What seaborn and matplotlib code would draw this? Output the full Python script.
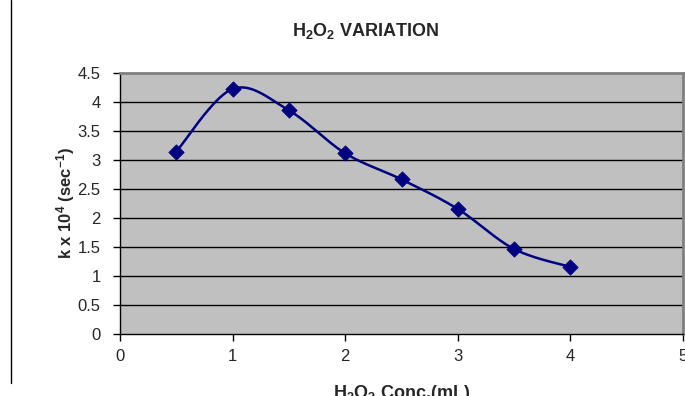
import numpy as np
import pandas as pd
import matplotlib
matplotlib.use("Agg")
import matplotlib.pyplot as plt
from matplotlib.lines import Line2D
import seaborn as sns

# data
conc_ml = [0.5, 1.0, 1.5, 2.0, 2.5, 3.0, 3.5, 4.0]
k_values = [3.14, 4.22, 3.85, 3.11, 2.66, 2.15, 1.46, 1.15]
x_ticks = [0, 1, 2, 3, 4, 5]
y_ticks = [0, 0.5, 1, 1.5, 2, 2.5, 3, 3.5, 4, 4.5]
title = "H$_2$O$_2$ VARIATION"
x_label = "H$_2$O$_2$ Conc.(mL)"
y_label = "k x 10$^4$ (sec$^{-1}$)"

sns.set_style("white")
plt.rcParams['font.family'] = ['Liberation Sans', 'DejaVu Sans']
plt.rcParams['mathtext.fontset'] = 'custom'
plt.rcParams['mathtext.rm'] = 'Liberation Sans'
plt.rcParams['mathtext.bf'] = 'Liberation Sans:bold'
plt.rcParams['mathtext.default'] = 'regular'

df = pd.DataFrame({"conc": conc_ml, "k": k_values})


def excel_smooth(x, y, n=40):
    x = np.asarray(x, float)
    y = np.asarray(y, float)
    px = np.concatenate([[x[0]], x, [x[-1]]])
    py = np.concatenate([[y[0]], y, [y[-1]]])
    xs, ys = [], []
    t = np.linspace(0, 1, n)
    for i in range(1, len(px) - 2):
        p0 = np.array([px[i], py[i]])
        p3 = np.array([px[i + 1], py[i + 1]])
        c1 = p0 + (np.array([px[i + 1], py[i + 1]]) - np.array([px[i - 1], py[i - 1]])) / 6
        c2 = p3 - (np.array([px[i + 2], py[i + 2]]) - np.array([px[i], py[i]])) / 6
        b = ((1 - t) ** 3)[:, None] * p0 + (3 * (1 - t) ** 2 * t)[:, None] * c1 \
            + (3 * (1 - t) * t ** 2)[:, None] * c2 + (t ** 3)[:, None] * p3
        xs.extend(b[:, 0])
        ys.extend(b[:, 1])
    return np.array(xs), np.array(ys)


sx, sy = excel_smooth(conc_ml, k_values)
curve = pd.DataFrame({"conc": sx, "k": sy})

fig = plt.figure(figsize=(6.85, 3.96), dpi=100)
ax = fig.add_axes([120 / 685, 1 - 333.7 / 396, 563 / 685, 261 / 396])
ax.set_facecolor("#C0C0C0")

navy = "#000080"
ax.plot(curve["conc"], curve["k"], color=navy, lw=1.8, zorder=3)
sns.scatterplot(data=df, x="conc", y="k", marker="D", s=60, color=navy,
                edgecolor=navy, ax=ax, zorder=4)

ax.set_xlim(0, 5)
ax.set_ylim(0, 4.5)
ax.set_xticks(x_ticks)
ax.set_yticks(y_ticks)
ax.set_xticklabels([f"{v:g}" for v in x_ticks], fontsize=12)
ax.set_yticklabels([f"{v:g}" for v in y_ticks], fontsize=12)
for yv in y_ticks[1:-1]:
    ax.axhline(yv, color="black", lw=1.0, zorder=1)

for s in ["top", "right"]:
    ax.spines[s].set_color("#808080")
    ax.spines[s].set_linewidth(2)
for s in ["left", "bottom"]:
    ax.spines[s].set_color("black")
    ax.spines[s].set_linewidth(1)
ax.tick_params(axis="x", direction="out", length=5, width=1, color="black",
               bottom=True, pad=6)
ax.tick_params(axis="y", direction="out", length=5, width=1, color="black",
               left=True, pad=9)

ax.set_xlabel(x_label, fontsize=13, fontweight="bold", labelpad=13.5)
ax.set_ylabel(y_label, fontsize=12, fontweight="bold", labelpad=0.5)

fig.text(366 / 685, 1 - 31 / 396, title, ha="center", va="center",
         fontsize=13, fontweight="bold")

fig.add_artist(Line2D([10.5 / 685, 10.5 / 685], [1 - 383 / 396, 1.0],
                      color="black", lw=1, transform=fig.transFigure))

fig.savefig("out.png", dpi=100)
